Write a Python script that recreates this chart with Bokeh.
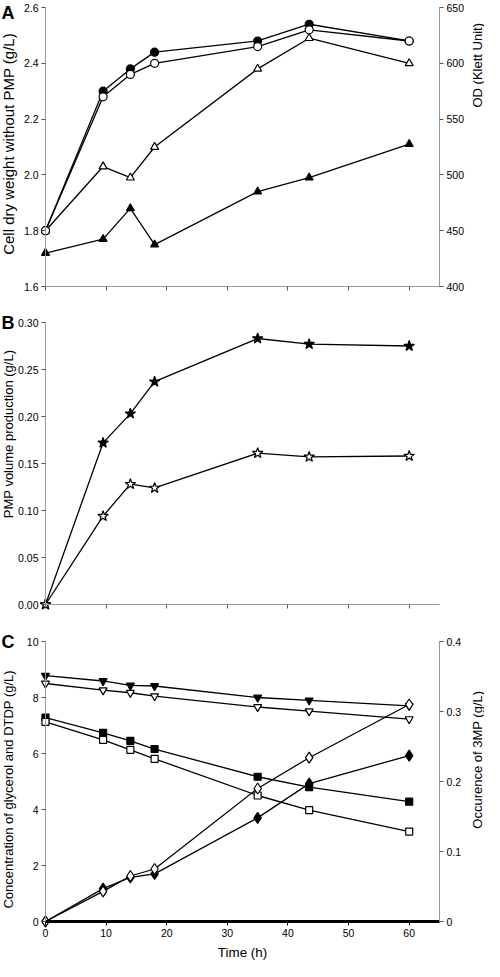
import math
from bokeh.plotting import figure
from bokeh.models import LinearAxis, Range1d, FixedTicker, Label
from bokeh.layouts import column
from bokeh.embed import file_html
from bokeh.resources import INLINE

# ---------------- data ----------------
time_h = [0, 9.5, 14, 18, 35, 43.5, 60]

# Panel A
od_filled_circle = [450, 575, 595, 610, 620, 635, 620]
od_open_circle = [450, 570, 590, 600, 615, 630, 620]
cdw_open_triangle = [1.80, 2.03, 1.99, 2.10, 2.38, 2.49, 2.40]
cdw_filled_triangle = [1.72, 1.77, 1.88, 1.75, 1.94, 1.99, 2.11]

# Panel B
pmp_filled_star = [0.0, 0.172, 0.203, 0.237, 0.283, 0.277, 0.275]
pmp_open_star = [0.0, 0.094, 0.128, 0.124, 0.161, 0.157, 0.158]

# Panel C
glycerol_filled = [8.78, 8.59, 8.43, 8.41, 8.00, 7.90, 7.70]
glycerol_open = [8.50, 8.26, 8.17, 8.05, 7.66, 7.51, 7.23]
dtdp_filled = [7.28, 6.74, 6.45, 6.16, 5.17, 4.80, 4.28]
dtdp_open = [7.13, 6.49, 6.13, 5.81, 4.50, 3.98, 3.21]
mp_filled = [0.0, 0.047, 0.063, 0.068, 0.148, 0.197, 0.237]
mp_open = [0.0, 0.043, 0.065, 0.075, 0.190, 0.234, 0.310]

x_ticks = [0, 10, 20, 30, 40, 50, 60]
a_left_ticks = [1.6, 1.8, 2.0, 2.2, 2.4, 2.6]
a_right_ticks = [400, 450, 500, 550, 600, 650]
b_ticks = [0.0, 0.05, 0.10, 0.15, 0.20, 0.25, 0.30]
c_left_ticks = [0, 2, 4, 6, 8, 10]
c_right_ticks = [0, 0.1, 0.2, 0.3, 0.4]

FONT = "Liberation Sans"
GRAY = "#9a9a9a"
TICK_FS = "10.5px"

W = 484
X0, X1 = 0, 65          # axis extent
PX_LEFT, PX_RIGHT = 45, 439   # canvas x of x=0 and x=65
XK = (X1 - X0) / (PX_RIGHT - PX_LEFT)
X_RANGE = (X0 - PX_LEFT * XK, X1 + (W - PX_RIGHT) * XK)


def y_range(v_top, p_top, v_bot, p_bot, height):
    k = (v_top - v_bot) / (p_bot - p_top)
    return Range1d(start=v_bot - (height - p_bot) * k, end=v_top + p_top * k)


def style_axis(ax, color=GRAY, width=1, tick_color="#555555"):
    ax.axis_line_color = color
    ax.axis_line_width = width
    ax.major_tick_line_color = tick_color
    ax.major_tick_out = 4
    ax.major_tick_in = 0
    ax.minor_tick_line_color = None
    ax.major_label_text_font = FONT
    ax.major_label_text_font_size = TICK_FS
    ax.major_label_text_color = "black"
    ax.major_label_standoff = 3


def make_fig(height, yr):
    p = figure(width=W, height=height, x_range=Range1d(*X_RANGE), y_range=yr,
               output_backend="svg", toolbar_location=None,
               x_axis_location=None, y_axis_location=None, min_border=0)
    p.outline_line_color = None
    p.grid.visible = False
    p.background_fill_color = "white"
    p.border_fill_color = "white"
    return p


def add_axis(p, side, loc, bounds, ticks, y_range_name="default", **kw):
    ax = LinearAxis(fixed_location=loc, bounds=bounds, ticker=FixedTicker(ticks=ticks),
                    y_range_name=y_range_name)
    style_axis(ax, **kw)
    p.add_layout(ax, side)
    return ax


def label(p, x, y, text, size, angle=0.0, bold=False, align="center"):
    p.add_layout(Label(x=x, y=y, text=text, angle=angle, text_align=align,
                       text_baseline="middle", text_font=FONT, text_font_size=size,
                       text_font_style="bold" if bold else "normal", text_color="black"))


def series(p, ys, marker, size, filled, y_range_name="default"):
    p.line(time_h, ys, line_color="black", line_width=1.3, y_range_name=y_range_name)
    p.scatter(time_h, ys, marker=marker, size=size, line_color="black", line_width=1.2,
              fill_color="black" if filled else "white", y_range_name=y_range_name)


def x_of(px):
    return X_RANGE[0] + px * XK


# ---------------- Panel A ----------------
HA = 304
A_TOP, A_BOT = 7, 286
pA = make_fig(HA, y_range(2.6, A_TOP, 1.6, A_BOT, HA))
pA.extra_y_ranges = {"od": y_range(650, A_TOP, 400, A_BOT, HA)}
axAx = add_axis(pA, "below", 1.6, (0, 65), x_ticks)
axAx.major_label_text_color = None
axAx.major_label_text_alpha = 0
axAl = add_axis(pA, "left", 0, (1.6, 2.6), a_left_ticks)
axAl.major_label_overrides = {t: f"{t:.1f}" for t in a_left_ticks}
add_axis(pA, "right", 65, (400, 650), a_right_ticks, y_range_name="od")

series(pA, cdw_filled_triangle, "triangle", 8, True)
series(pA, cdw_open_triangle, "triangle", 8, False)
series(pA, od_filled_circle, "circle", 8, True, "od")
series(pA, od_open_circle, "circle", 8, False, "od")

label(pA, x_of(8), 2.111, "Cell dry weight without PMP (g/L)", "15px", angle=math.pi / 2)
label(pA, x_of(477), 2.393, "OD (Klett Unit)", "13px", angle=math.pi / 2)
label(pA, x_of(1), 2.6 - 5 / (A_BOT - A_TOP), "A", "18px", bold=True, align="left")

# ---------------- Panel B ----------------
HB = 319
pB = make_fig(HB, y_range(0.30, 18, 0.0, 300, HB))
axBx = add_axis(pB, "below", 0.0, (0, 65), x_ticks)
axBx.major_label_text_color = None
axBx.major_label_text_alpha = 0
axBl = add_axis(pB, "left", 0, (0.0, 0.30), b_ticks)
axBl.major_label_overrides = {t: f"{t:.2f}" for t in b_ticks}

series(pB, pmp_filled_star, "star", 11, True)
series(pB, pmp_open_star, "star", 11, False)

label(pB, x_of(7.5), 0.1814, "PMP volume production (g/L)", "13px", angle=math.pi / 2)
label(pB, x_of(1), 0.30, "B", "18px", bold=True, align="left")

# ---------------- Panel C ----------------
HC = 338
pC = make_fig(HC, y_range(10, 18, 0, 298, HC))
pC.extra_y_ranges = {"mp": y_range(0.4, 18, 0.0, 298, HC)}
add_axis(pC, "below", 0, (0, 65), x_ticks, color="black", width=3, tick_color="black")
add_axis(pC, "left", 0, (0, 10), c_left_ticks)
axCr = add_axis(pC, "right", 65, (0, 0.4), c_right_ticks, y_range_name="mp")
axCr.major_label_overrides = {0: "0", 0.1: "0.1", 0.2: "0.2", 0.3: "0.3", 0.4: "0.4"}

series(pC, glycerol_filled, "inverted_triangle", 8, True)
series(pC, glycerol_open, "inverted_triangle", 8, False)
series(pC, dtdp_filled, "square", 7, True)
series(pC, dtdp_open, "square", 7, False)
series(pC, mp_filled, "diamond", 11, True, "mp")
series(pC, mp_open, "diamond", 11, False, "mp")

label(pC, x_of(8), 4.72, "Concentration of glycerol and DTDP (g/L)", "13px", angle=math.pi / 2)
label(pC, x_of(477), 5.78, "Occurence of 3MP (g/L)", "13px", angle=math.pi / 2)
label(pC, x_of(242), -1.09, "Time (h)", "13.4px")
label(pC, x_of(1), 10, "C", "18px", bold=True, align="left")

layout = column(pA, pB, pC, spacing=0)
open("out.html", "w").write(file_html(layout, INLINE))
